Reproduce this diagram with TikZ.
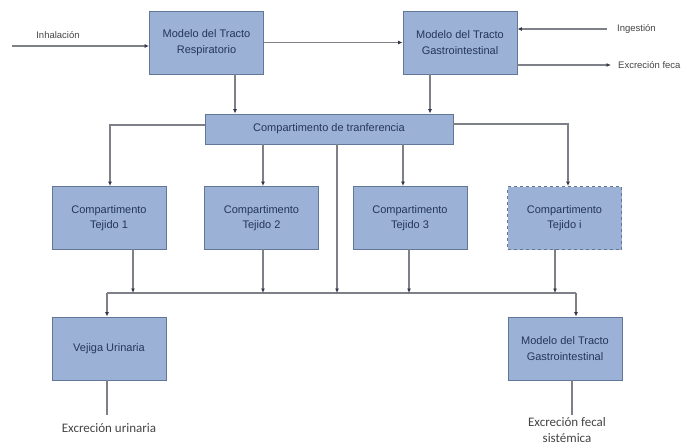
\documentclass[tikz,border=0pt]{standalone}
\usepackage{fontspec}
\setmainfont{Liberation Sans}
\newfontfamily\labelfont{Carlito}
\usetikzlibrary{arrows.meta,calc}
\definecolor{boxfill}{HTML}{9BB1D5}
\definecolor{boxline}{HTML}{62769A}
\definecolor{boxtext}{HTML}{24365A}
\definecolor{wire}{HTML}{7E8087}
\definecolor{tipcol}{HTML}{34384A}
\definecolor{sidetext}{HTML}{444444}
\tikzset{
  compbox/.style={draw=boxline, line width=0.9pt, fill=boxfill, text=boxtext,
    minimum width=114pt, minimum height=63pt, inner sep=0pt, align=center,
    font=\fontsize{11}{15.5}\selectfont},
  wireline/.style={draw=wire, line width=1.2pt},
  flow/.style={wireline, -{Latex[length=4.5pt,width=4pt,color=tipcol]}},
  sidelabel/.style={text=sidetext, inner sep=0pt, font=\fontsize{9.5}{11}\selectfont},
  outlabel/.style={text=sidetext, inner sep=0pt, align=center,
    font=\labelfont\fontsize{13}{16}\selectfont},
}
\begin{document}
\begin{tikzpicture}[x=1pt,y=-1pt]
\useasboundingbox (0,0) rectangle (693,447);

% upper models
\node[compbox] (resp) at (206.5,42.5) {Modelo del Tracto\\Respiratorio};
\node[compbox] (gitop) at (460,42.5) {Modelo del Tracto\\Gastrointestinal};

% transfer compartment
\node[compbox, minimum width=248pt, minimum height=30pt] (trans) at (329,129) {Compartimento de tranferencia};

% tissue compartments
\node[compbox] (t1) at (109,218) {Compartimento\\Tejido 1};
\node[compbox] (t2) at (261.5,218) {Compartimento\\Tejido 2};
\node[compbox] (t3) at (410,218) {Compartimento\\Tejido 3};
\node[compbox, dashed] (ti) at (564.5,218) {Compartimento\\Tejido i};

% excretion compartments
\node[compbox] (vej) at (109,348.5) {Vejiga Urinaria};
\node[compbox] (gibot) at (565,348.5) {Modelo del Tracto\\Gastrointestinal};

% side inputs and outputs of the upper models
\coordinate (inh) at (12,46);
\draw[flow] (inh) -- (inh -| resp.west);
\node[sidelabel] (inhlbl) at (58,35) {Inhalación};
\draw[flow] (resp.east) -- (gitop.west);

\coordinate (ing) at (607,29);
\draw[flow] (ing) -- (ing -| gitop.east);
\node[sidelabel, anchor=west] (inglbl) at (617,29) {Ingestión};

\coordinate (exf) at (611,65);
\draw[flow] (exf -| gitop.east) -- (exf);
\node[sidelabel, anchor=west] (exflbl) at (618,65) {Excreción feca};

% into the transfer compartment
\draw[flow] (resp.south -| 235,0) -- (trans.north -| 235,0);
\draw[flow] (gitop.south -| 430,0) -- (trans.north -| 430,0);

% transfer compartment to the tissues
\draw[flow] ([yshift=4pt]trans.west) -| (t1.north -| 110,0);
\draw[flow] (trans.south -| 263,0) -- (t2.north -| 263,0);
\draw[flow] (trans.south -| 403,0) -- (t3.north -| 403,0);
\draw[flow] ([yshift=5pt]trans.east) -| (ti.north -| 568,0);

% collecting line
\coordinate (busL) at (107,293);
\coordinate (busR) at (576,293);
\draw[wireline] (busL) -- (busR);
\draw[flow] (trans.south -| 337,0) -- (busL -| 337,0);
\coordinate (o1) at (133,249);
\coordinate (o2) at (263,249);
\coordinate (o3) at (409,249);
\coordinate (oi) at (555,249);
\draw[flow] (o1) -- (o1 |- busL);
\draw[flow] (o2) -- (o2 |- busL);
\draw[flow] (o3) -- (o3 |- busL);
\draw[flow] (oi) -- (oi |- busL);
\draw[flow] (busL) -- (busL |- vej.north);
\draw[flow] (busR) -- (busR |- gibot.north);

% final excretion routes
\node[outlabel] (eu) at (109,428) {Excreción urinaria};
\draw[wireline] (vej.south -| busL) -- (busL |- 0,415);
\node[outlabel] (efs) at (567,430) {Excreción fecal\\sistémica};
\draw[wireline] (gibot.south -| 572,0) -- (572,415);
\end{tikzpicture}
\end{document}
